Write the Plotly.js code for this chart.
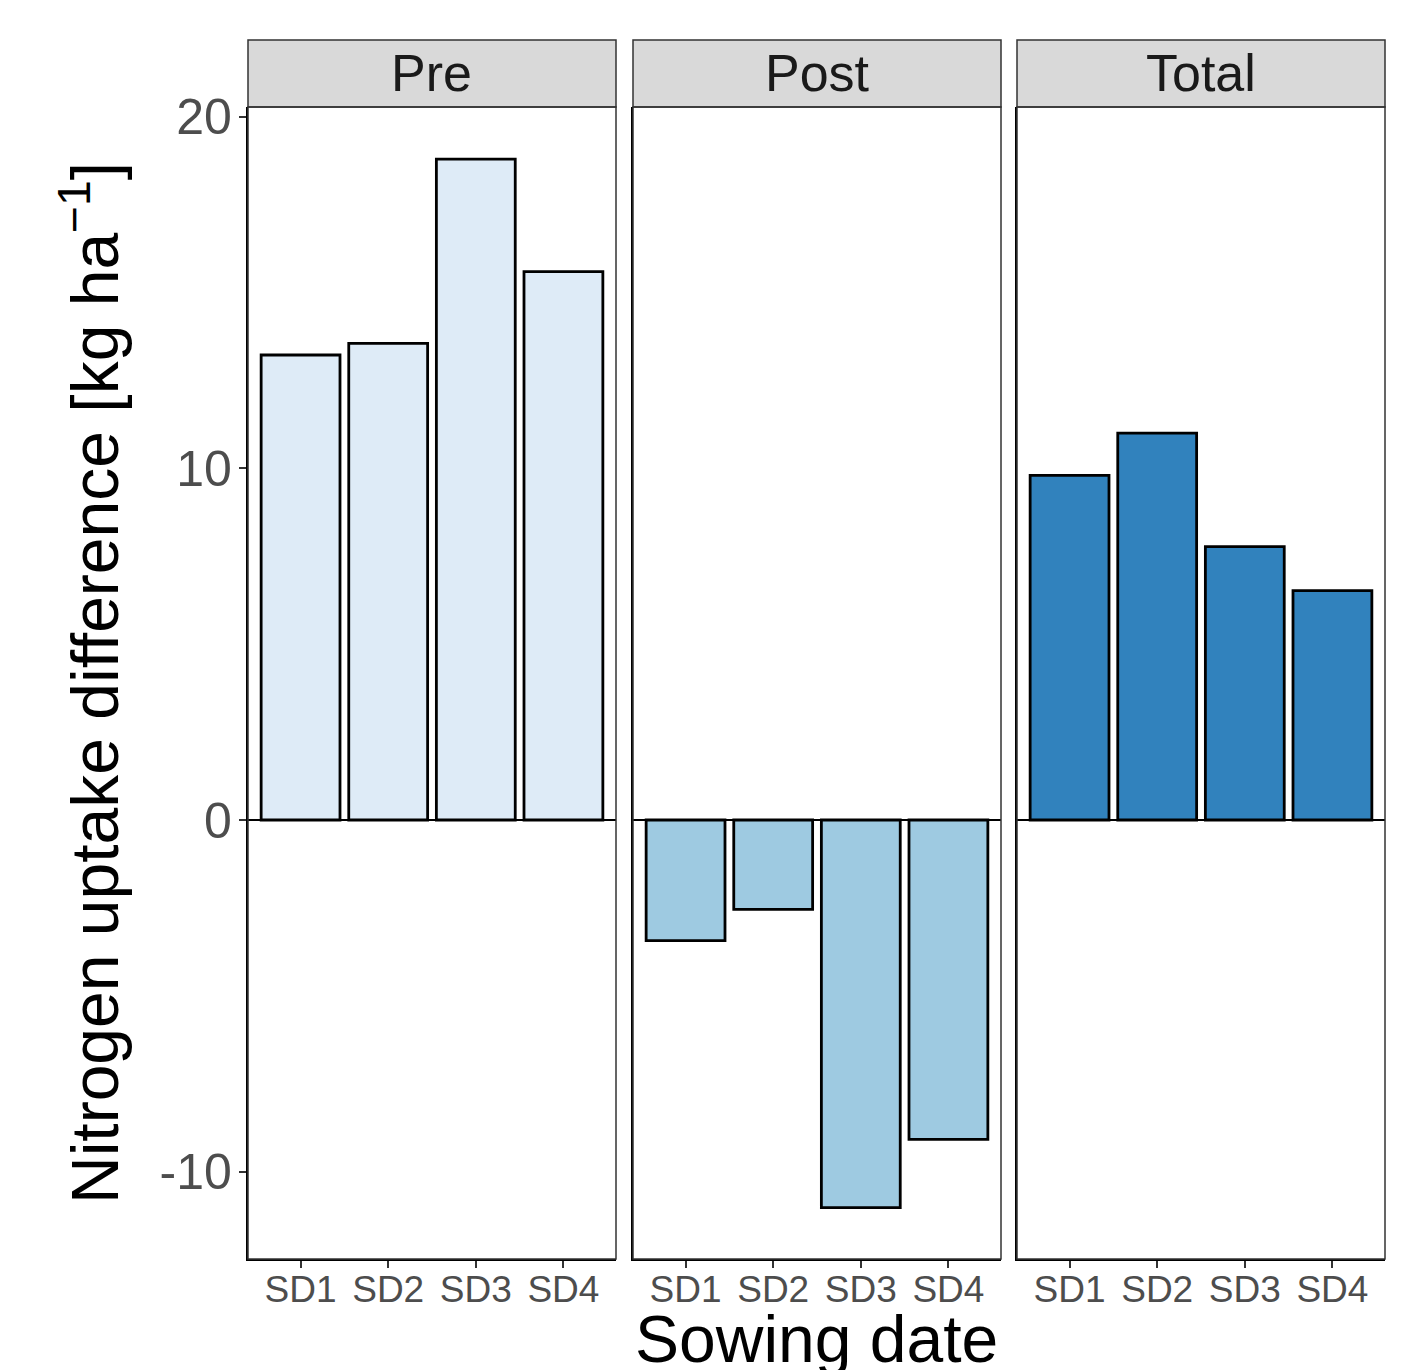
<!DOCTYPE html>
<html>
<head>
<meta charset="utf-8">
<script src="https://cdn.plot.ly/plotly-3.0.1.min.js"></script>
<style>html,body{margin:0;padding:0;background:#fff;}#chart{width:1428px;height:1370px;}</style>
</head>
<body>
<div id="chart"></div>
<script>
// ---- data ----
const sowingDates = ['SD1', 'SD2', 'SD3', 'SD4'];
const panelNames = ['Pre', 'Post', 'Total'];
const preValues = [13.22, 13.55, 18.79, 15.59];
const postValues = [-3.43, -2.54, -11.02, -9.08];
const totalValues = [9.80, 11.00, 7.77, 6.52];
const yTickVals = [-10, 0, 10, 20];
const yTickText = ['-10', '0', '10', '20'];

// ---- style ----
const W = 1428, H = 1370;
const fills = ['#DEEBF7', '#9ECAE1', '#3182BD'];
const panelPx = [[248, 616], [633, 1001], [1017, 1385]];
const plotTop = 107, plotBottom = 1259, stripTop = 40;
const FONT = 'Liberation Sans, Arial, Helvetica, sans-serif';

const seriesValues = [preValues, postValues, totalValues];
const traces = seriesValues.map((vals, i) => ({
  type: 'bar',
  x: sowingDates,
  y: vals,
  width: 0.9,
  xaxis: i === 0 ? 'x' : 'x' + (i + 1),
  yaxis: i === 0 ? 'y' : 'y' + (i + 1),
  marker: {color: fills[i], line: {color: '#000', width: 2.8}},
  showlegend: false,
  hoverinfo: 'x+y'
}));

const yDomain = [1 - plotBottom / H, 1 - plotTop / H];
const layout = {
  width: W, height: H,
  margin: {l: 0, r: 0, t: 0, b: 0},
  paper_bgcolor: '#ffffff',
  plot_bgcolor: '#ffffff',
  font: {family: FONT, color: '#000'},
  bargap: 0,
  shapes: [],
  annotations: []
};

panelPx.forEach((p, i) => {
  const sfx = i === 0 ? '' : String(i + 1);
  layout['xaxis' + sfx] = {
    domain: [p[0] / W, p[1] / W],
    anchor: 'y' + sfx,
    type: 'category',
    range: [-0.6, 3.6],
    showline: true, linecolor: '#000', linewidth: 2.2, mirror: false,
    ticks: 'outside', ticklen: 7, tickwidth: 2, tickcolor: '#333',
    tickfont: {size: 37, color: '#4D4D4D', family: FONT},
    ticklabelstandoff: -11,
    showgrid: false, zeroline: false, fixedrange: true
  };
  layout['yaxis' + sfx] = {
    domain: yDomain,
    anchor: 'x' + sfx,
    range: [-12.48, 20.27],
    showline: true, linecolor: '#000', linewidth: 2.2, mirror: false,
    showgrid: false,
    zeroline: true, zerolinecolor: '#000', zerolinewidth: 2,
    tickvals: yTickVals, ticktext: yTickText,
    ticks: i === 0 ? 'outside' : '', ticklen: 7, tickwidth: 2, tickcolor: '#333',
    showticklabels: i === 0,
    tickfont: {size: 50, color: '#4D4D4D', family: FONT},
    ticklabelstandoff: -3,
    fixedrange: true
  };
  // panel border
  layout.shapes.push({
    type: 'rect', xref: 'paper', yref: 'paper', layer: 'above',
    x0: p[0] / W, x1: p[1] / W, y0: yDomain[0], y1: yDomain[1],
    line: {color: '#333', width: 1.5}, fillcolor: 'rgba(0,0,0,0)'
  });
  // strip
  layout.shapes.push({
    type: 'rect', xref: 'paper', yref: 'paper', layer: 'below',
    x0: p[0] / W, x1: p[1] / W, y0: 1 - plotTop / H, y1: 1 - stripTop / H,
    line: {color: '#333', width: 1.5}, fillcolor: '#D9D9D9'
  });
  layout.annotations.push({
    xref: 'paper', yref: 'paper', showarrow: false,
    x: (p[0] + p[1]) / 2 / W, y: 1 - (stripTop + plotTop) / 2 / H,
    xanchor: 'center', yanchor: 'middle',
    text: panelNames[i], font: {size: 52, color: '#1A1A1A', family: FONT}
  });
});

// axis titles
layout.annotations.push({
  xref: 'paper', yref: 'paper', showarrow: false,
  x: (panelPx[0][0] + panelPx[2][1]) / 2 / W, y: 1 - 1300 / H,
  xanchor: 'center', yanchor: 'top',
  text: 'Sowing date', font: {size: 66, color: '#000', family: FONT}
});
layout.annotations.push({
  xref: 'paper', yref: 'paper', showarrow: false,
  x: 90 / W, y: 1 - (plotTop + plotBottom) / 2 / H,
  xanchor: 'center', yanchor: 'middle', textangle: -90,
  text: 'Nitrogen uptake difference [kg ha<sup>\u22121</sup>]',
  font: {size: 66, color: '#000', family: FONT}
});

Plotly.newPlot('chart', traces, layout, {displayModeBar: false, staticPlot: true});
</script>
</body>
</html>
